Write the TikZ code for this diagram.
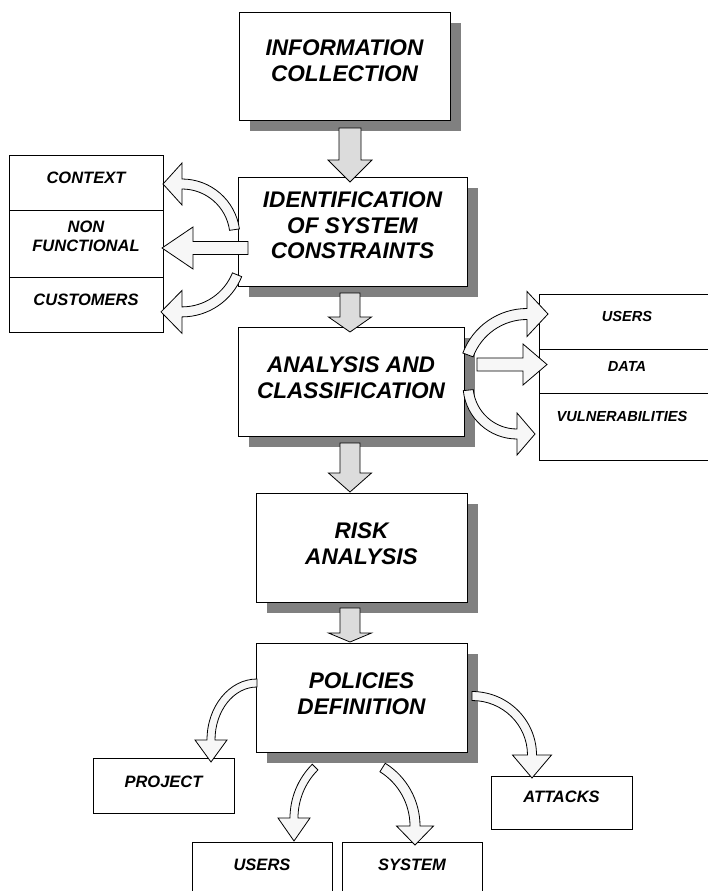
\documentclass[tikz,border=0pt]{standalone}
\usepackage{fontspec}
\setmainfont{Liberation Sans}
\usetikzlibrary{calc,shadows}
\definecolor{shadowgray}{HTML}{808080}
\definecolor{stepfill}{HTML}{DCDCDC}
\definecolor{bendfill}{HTML}{F7F7F7}

% Curved block arrow along an elliptic arc.
% #1 centre, #2 x radius, #3 y radius, #4 start angle, #5 end angle,
% #6 half shaft width, #7 half head width, #8 head length, #9 turn (90 ccw, -90 cw)
\newcommand{\bendarrow}[9]{%
  \draw[whitearrow] let \p1=(#1) in
    ({\x1+(#2+#6)*cos(#4)},{\y1+(#3+#6)*sin(#4)})
    arc[start angle=#4, end angle=#5, x radius=#2+#6, y radius=#3+#6]
    -- ({\x1+(#2+#7)*cos(#5)},{\y1+(#3+#7)*sin(#5)})
    -- ({\x1+#2*cos(#5)+#8*cos(#5+(#9))},{\y1+#3*sin(#5)+#8*sin(#5+(#9))})
    -- ({\x1+(#2-#7)*cos(#5)},{\y1+(#3-#7)*sin(#5)})
    -- ({\x1+(#2-#6)*cos(#5)},{\y1+(#3-#6)*sin(#5)})
    arc[start angle=#5, end angle=#4, x radius=#2-#6, y radius=#3-#6]
    -- cycle;}

% Straight block arrow.
% #1 style, #2 tail, #3 tip, #4 half shaft width, #5 half head width, #6 head length
\newcommand{\straightblock}[6]{%
  \draw[#1] let \p1=(#2), \p2=(#3), \n1={atan2(\y2-(\y1),\x2-(\x1))} in
    ({\x1+#4*cos(\n1+90)},{\y1+#4*sin(\n1+90)})
    -- ({\x2-#6*cos(\n1)+#4*cos(\n1+90)},{\y2-#6*sin(\n1)+#4*sin(\n1+90)})
    -- ({\x2-#6*cos(\n1)+#5*cos(\n1+90)},{\y2-#6*sin(\n1)+#5*sin(\n1+90)})
    -- (\p2)
    -- ({\x2-#6*cos(\n1)-#5*cos(\n1+90)},{\y2-#6*sin(\n1)-#5*sin(\n1+90)})
    -- ({\x2-#6*cos(\n1)-#4*cos(\n1+90)},{\y2-#6*sin(\n1)-#4*sin(\n1+90)})
    -- ({\x1-#4*cos(\n1+90)},{\y1-#4*sin(\n1+90)})
    -- cycle;}

\begin{document}
\begin{tikzpicture}[x=1pt,y=1pt,
  stage/.style={draw=black, line width=0.9pt, fill=white, rectangle,
    inner sep=0pt, outer sep=0pt,
    general shadow={fill=shadowgray, shadow xshift=11pt, shadow yshift=-11pt}},
  item/.style={draw=black, line width=0.9pt, fill=white, rectangle,
    inner sep=0pt, outer sep=0pt},
  bigtext/.style={font=\fontsize{22.6}{25.5}\selectfont\bfseries\itshape,
    align=center, inner sep=0pt, anchor=north},
  smalltext/.style={font=\fontsize{16.5}{19}\selectfont\bfseries\itshape,
    align=center, inner sep=0pt},
  righttext/.style={font=\fontsize{14.6}{17}\selectfont\bfseries\itshape,
    inner sep=0pt},
  downarrow/.style={draw=black, line width=0.8pt, fill=stepfill, line join=miter},
  whitearrow/.style={draw=black, line width=0.8pt, fill=bendfill, line join=miter}]

\useasboundingbox (0,0) rectangle (708,-891);

% main process stages
\node[stage, minimum width=211pt, minimum height=108pt] (info)   at (344.5,-66)    {};
\node[stage, minimum width=229pt, minimum height=109pt] (ident)  at (352.5,-231.5) {};
\node[stage, minimum width=226pt, minimum height=109pt] (anal)   at (351,-381.5)   {};
\node[stage, minimum width=211pt, minimum height=109pt] (risk)   at (361.5,-547.5) {};
\node[stage, minimum width=211pt, minimum height=109pt] (policy) at (361.5,-697.5) {};

\node[bigtext] (info-t)   at (344.5,-40)  {INFORMATION\\COLLECTION};
\node[bigtext] (ident-t)  at (352.5,-192) {IDENTIFICATION\\OF SYSTEM\\CONSTRAINTS};
\node[bigtext] (anal-t)   at (351,-357)   {ANALYSIS AND\\CLASSIFICATION};
\node[bigtext] (risk-t)   at (361.5,-523) {RISK\\ANALYSIS};
\node[bigtext] (policy-t) at (361.5,-673) {POLICIES\\DEFINITION};

% constraint categories
\node[item, minimum width=154pt, minimum height=55pt] (context)   at (86,-182.5) {};
\node[item, minimum width=154pt, minimum height=67pt] (nonfunc)   at (86,-243.5) {};
\node[item, minimum width=154pt, minimum height=55pt] (customers) at (86,-304.5) {};
\node[smalltext] (context-t)   at (86,-178)   {CONTEXT};
\node[smalltext] (nonfunc-t)   at (86,-236.5) {NON\\FUNCTIONAL};
\node[smalltext] (customers-t) at (86,-300)   {CUSTOMERS};

% classification categories
\node[item, minimum width=176pt, minimum height=55pt] (rusers) at (627,-321.5) {};
\node[item, minimum width=176pt, minimum height=44pt] (rdata)  at (627,-371)   {};
\node[item, minimum width=176pt, minimum height=67pt] (rvuln)  at (627,-426.5) {};
\node[righttext] (rusers-t) at (627,-316) {USERS};
\node[righttext] (rdata-t)  at (627,-366) {DATA};
\node[righttext] (rvuln-t)  at (622,-416) {VULNERABILITIES};

% policy targets
\node[item, minimum width=141pt, minimum height=55pt] (project) at (163.5,-785.5) {};
\node[item, minimum width=140pt, minimum height=58pt] (pusers)  at (262,-871)     {};
\node[item, minimum width=140pt, minimum height=58pt] (psystem) at (412,-871)     {};
\node[item, minimum width=141pt, minimum height=53pt] (attacks) at (561.5,-802.5) {};
\node[smalltext] (project-t) at (163.5,-782) {PROJECT};
\node[smalltext] (pusers-t)  at (262,-865)   {USERS};
\node[smalltext] (psystem-t) at (412,-865)   {SYSTEM};
\node[smalltext] (attacks-t) at (561.5,-797) {ATTACKS};

% flow between stages
\straightblock{downarrow}{$(info.south)+(5.5,-8)$}{$(ident.north)+(-2.5,-5)$}{11}{22}{22}
\straightblock{downarrow}{$(ident.south)+(-2.5,-7)$}{$(anal.north)+(-1,-5)$}{10}{21.5}{15}
\straightblock{downarrow}{$(anal.south)+(-1,-7)$}{$(risk.north)+(-11.5,1)$}{10}{21.5}{19}
\straightblock{downarrow}{$(risk.south)+(-11.5,-6)$}{$(policy.north)+(-11.5,1)$}{10}{21.5}{9}

% arc centres of the bent arrows
\coordinate (ctx-c) at ($(ident.west)+(-56,-5.5)$);
\coordinate (cus-c) at ($(ident.west)+(-56,-21)$);
\coordinate (usr-c) at ($(anal.east)+(63,4.5)$);
\coordinate (vul-c) at ($(anal.east)+(53,-3.5)$);
\coordinate (prj-c) at ($(policy.west)+(1,-42.5)$);
\coordinate (pus-c) at ($(policy.south)+(4.5,-66)$);
\coordinate (sys-c) at ($(policy.south)+(-15.5,-74)$);
\coordinate (att-c) at ($(policy.east)+(5,-57.5)$);

% constraints
\bendarrow{ctx-c}{53}{53}{8}{90}{5}{21}{19}{90}
\straightblock{whitearrow}{$(ident.west)+(10,-16.5)$}{$(nonfunc.east)+(-1,-4.5)$}{6.5}{21}{31}
\bendarrow{cus-c}{59.4}{59.4}{-22}{-90}{5}{21.5}{21}{-90}

% classification
\bendarrow{usr-c}{63}{63}{159.5}{90}{5.5}{22.5}{21}{-90}
\straightblock{whitearrow}{$(anal.east)+(13,17)$}{$(rdata.west)+(8,6.5)$}{6.5}{20.5}{24}
\bendarrow{vul-c}{49}{49}{186}{270}{5}{21}{18}{90}

% policies
\bendarrow{prj-c}{46}{57}{90}{180}{4}{16}{22}{90}
\bendarrow{pus-c}{72}{72}{135}{180}{4}{16}{23}{90}
\bendarrow{sys-c}{69}{69}{58}{0}{5}{18.5}{19}{-90}
\bendarrow{att-c}{60}{59}{90}{0}{4.5}{19.5}{23}{-90}
\end{tikzpicture}
\end{document}
